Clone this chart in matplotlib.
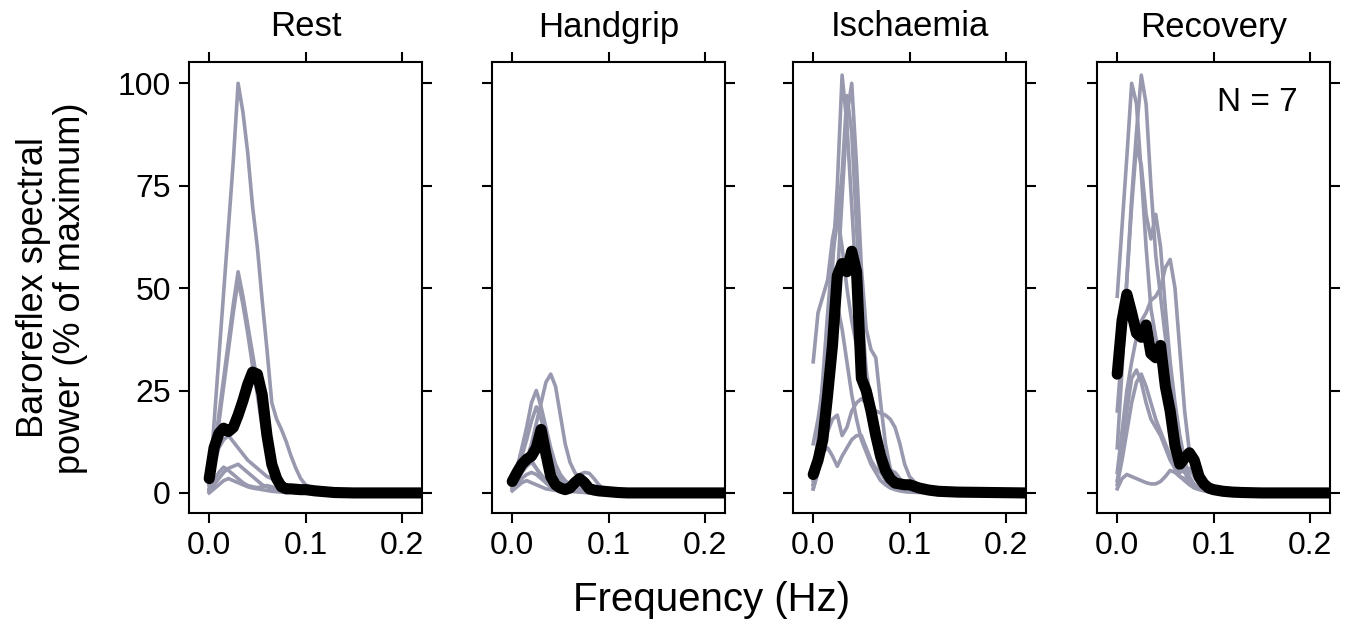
import matplotlib
matplotlib.use("Agg")
import matplotlib.pyplot as plt

plt.rcParams["font.family"] = ["Liberation Sans", "DejaVu Sans"]

# ---------------------------------------------------------------- data
FREQ = [0.000, 0.005, 0.010, 0.015, 0.020, 0.025, 0.030, 0.035, 0.040, 0.045,
        0.050, 0.055, 0.060, 0.065, 0.070, 0.075, 0.080, 0.085, 0.090, 0.095,
        0.100, 0.110, 0.120, 0.130, 0.150, 0.220]

PHASES = ["Rest", "Handgrip", "Ischaemia", "Recovery"]

REST_SUBJECTS = [
    [1, 17, 33, 49, 65, 81, 100, 93, 83, 70, 60, 47, 35, 22, 18, 15.5, 12.5, 9, 6, 3.5, 2, 0.8, 0.3, 0.1, 0, 0],
    [2, 10, 19, 28, 37, 46, 54, 48, 41, 34, 27, 19, 12, 7, 4, 2, 1, 0.6, 0.4, 0.3, 0.2, 0.1, 0, 0, 0, 0],
    [0.5, 8, 17, 26, 35, 44, 52, 46, 39, 31, 24, 16, 10, 6, 3.5, 2, 1.2, 0.8, 0.5, 0.3, 0.2, 0.1, 0, 0, 0, 0],
    [2, 7, 11, 13, 14, 12.5, 11, 9.5, 8, 7, 6, 5, 4, 3.5, 3, 2.5, 2, 1.5, 1, 0.6, 0.4, 0.2, 0.1, 0, 0, 0],
    [0.5, 2, 3.5, 5, 6, 6.5, 7, 6, 5, 4, 3, 2, 1.5, 1, 0.7, 0.5, 0.3, 0.2, 0.1, 0.1, 0, 0, 0, 0, 0, 0],
    [1, 3, 5, 6.3, 5.5, 4.5, 3.5, 2.5, 1.8, 1.5, 1.3, 1.5, 1.8, 1.5, 1, 0.6, 0.4, 0.2, 0.1, 0, 0, 0, 0, 0, 0, 0],
    [0, 1, 2, 3, 3.5, 3, 2.5, 2, 1.5, 1.2, 1.0, 0.8, 0.6, 0.4, 0.3, 0.2, 0.1, 0.1, 0, 0, 0, 0, 0, 0, 0, 0],
]
REST_MEAN = [3.5, 11, 14.5, 15.8, 15, 16, 19, 22.5, 26.5, 29.5, 29, 24, 14, 7, 3.5, 1.5,
             1.0, 1.0, 0.9, 0.8, 0.8, 0.5, 0.3, 0.1, 0, 0]

HANDGRIP_SUBJECTS = [
    [2, 3, 5, 8, 12, 17, 22, 27, 29, 26, 19, 12, 7.5, 5, 3.5, 2.5, 2, 1.2, 0.6, 0.3, 0.2, 0.1, 0, 0, 0, 0],
    [3, 6, 11, 16, 22, 25, 21, 16, 11, 7, 4.5, 3, 2, 1.5, 1, 0.7, 0.5, 0.3, 0.2, 0.1, 0, 0, 0, 0, 0, 0],
    [2, 5, 9, 13, 17.5, 21, 18, 14, 9, 5.5, 3.5, 2.5, 2, 2.5, 3, 2, 1, 0.5, 0.3, 0.2, 0.1, 0, 0, 0, 0, 0],
    [2, 5, 8, 9, 8, 6, 4.5, 3, 2, 1.5, 1, 0.7, 0.5, 0.4, 0.3, 0.2, 0.1, 0, 0, 0, 0, 0, 0, 0, 0, 0],
    [1, 2, 3.5, 4.5, 5, 4.5, 3.5, 2.5, 1.5, 1, 0.7, 0.5, 0.4, 0.3, 0.2, 0.1, 0, 0, 0, 0, 0, 0, 0, 0, 0, 0],
    [1.5, 3, 5, 6.5, 7.5, 6, 4, 2.5, 1.5, 1, 1, 1.5, 2.5, 3.5, 4.5, 5, 4.8, 3.5, 2, 1, 0.5, 0.2, 0.1, 0, 0, 0],
    [0.5, 1.5, 2.5, 3, 2.5, 2, 1.5, 1, 0.8, 0.6, 0.5, 0.6, 1, 1.5, 2, 1.8, 1.2, 0.6, 0.3, 0.1, 0, 0, 0, 0, 0, 0],
]
HANDGRIP_MEAN = [2.8, 5, 7, 8.2, 9, 11, 15.5, 9.5, 4, 2, 1.2, 0.8, 1.2, 2.5, 3.5, 2.5,
                 1.0, 0.7, 0.5, 0.4, 0.3, 0.1, 0, 0, 0, 0]

ISCHAEMIA_SUBJECTS = [
    [2, 10, 22, 38, 55, 75, 102, 90, 70, 50, 35, 25, 17, 10, 5, 3, 2, 1.5, 1, 0.8, 0.6, 0.3, 0.1, 0, 0, 0],
    [1, 5, 12, 22, 35, 52, 72, 92, 100, 80, 55, 40, 35, 33, 22, 12, 6, 3, 2, 1.5, 1, 0.5, 0.2, 0.1, 0, 0],
    [3, 14, 28, 44, 58, 66, 78, 97, 88, 65, 45, 30, 22, 15, 9, 5, 3, 2, 1.2, 0.8, 0.5, 0.2, 0.1, 0, 0, 0],
    [32, 44, 48, 52, 62, 68, 60, 50, 42, 36, 30, 27, 24, 18, 12, 7, 4, 2.5, 1.5, 1, 0.6, 0.3, 0.1, 0, 0, 0],
    [12, 18, 26, 35, 42, 46, 40, 32, 24, 18, 13, 10, 7, 5, 3, 2, 1.2, 0.8, 0.5, 0.3, 0.2, 0.1, 0, 0, 0, 0],
    [2, 6, 11, 15, 18, 19, 14, 16, 20, 22, 23, 22, 21, 20, 19.5, 19, 18, 16, 12, 7, 4, 1.5, 0.5, 0.2, 0, 0],
    [1, 6, 10, 11, 9, 6.5, 9, 11, 13, 14, 14, 11, 8, 6, 5, 5, 5.5, 5, 3.5, 2, 1, 0.4, 0.2, 0, 0, 0],
]
ISCHAEMIA_MEAN = [4.5, 8, 13, 24, 36, 53, 56, 54, 59, 54, 28, 25, 20, 14, 9, 5.5,
                  3.5, 2.4, 2.2, 2, 2, 1.2, 0.7, 0.4, 0.2, 0]

RECOVERY_SUBJECTS = [
    [48, 65, 82, 100, 95, 78, 60, 45, 38, 33, 27, 20, 13, 8, 5, 3, 2, 1.5, 1, 0.6, 0.4, 0.2, 0.1, 0, 0, 0],
    [11, 30, 52, 72, 88, 102, 95, 75, 58, 48, 38, 28, 18, 11, 6, 3, 2, 1.2, 0.8, 0.5, 0.3, 0.1, 0, 0, 0, 0],
    [20, 35, 52, 70, 85, 80, 68, 62, 68, 60, 45, 32, 22, 14, 8, 4, 2, 1.2, 0.8, 0.5, 0.3, 0.1, 0, 0, 0, 0],
    [5, 15, 25, 32, 38, 42, 44, 47, 48, 50, 55, 57, 50, 35, 20, 10, 5, 2.5, 1.5, 1, 0.6, 0.3, 0.1, 0, 0, 0],
    [2, 8, 15, 22, 27, 29, 26, 22, 18, 15, 12, 9, 6, 4, 3, 2, 1.2, 0.8, 0.5, 0.3, 0.2, 0.1, 0, 0, 0, 0],
    [1, 3.5, 4.5, 4, 3.5, 3, 2.5, 2.2, 2.2, 2.8, 4, 5.5, 5, 4, 3.5, 3, 2, 1.2, 0.8, 0.5, 0.3, 0.1, 0, 0, 0, 0],
    [3, 10, 20, 28, 30, 27, 22, 18, 16, 14, 11, 8, 6, 5, 5.5, 6, 4, 2, 1, 0.5, 0.3, 0.1, 0, 0, 0, 0],
]
RECOVERY_MEAN = [29, 42, 48.5, 44, 39, 38, 41, 34, 33, 36, 26, 20, 11.5, 7, 8.5, 9.8,
                 8, 4, 2.2, 1.2, 0.8, 0.4, 0.2, 0.1, 0, 0]

SUBJECTS = [REST_SUBJECTS, HANDGRIP_SUBJECTS, ISCHAEMIA_SUBJECTS, RECOVERY_SUBJECTS]
MEANS = [REST_MEAN, HANDGRIP_MEAN, ISCHAEMIA_MEAN, RECOVERY_MEAN]

X_TICKS = [0.0, 0.1, 0.2]
X_TICKLABELS = ["0.0", "0.1", "0.2"]
Y_TICKS = [0, 25, 50, 75, 100]

# ---------------------------------------------------------------- layout
W, H = 1350, 629
GRAY = "#9898AF"
fig = plt.figure(figsize=(W / 100, H / 100), dpi=100)

lefts = [189, 492, 793, 1097]
top_px, bot_px, width_px = 62, 513, 233

for i, (phase, subj, mean) in enumerate(zip(PHASES, SUBJECTS, MEANS)):
    ax = fig.add_axes([lefts[i] / W, 1 - bot_px / H, width_px / W, (bot_px - top_px) / H])
    for s in subj:
        ax.plot(FREQ, s, color=GRAY, lw=2.6, solid_joinstyle="round", zorder=2)
    ax.plot(FREQ, mean, color="black", lw=8, solid_capstyle="round",
            solid_joinstyle="round", zorder=3)

    ax.set_xlim(-0.021, 0.221)
    ax.set_ylim(-4.9, 105.2)
    ax.set_xticks(X_TICKS)
    ax.set_xticklabels(X_TICKLABELS)
    ax.set_yticks(Y_TICKS)
    ax.tick_params(direction="out", length=7, width=1.5, top=True, right=True,
                   labelsize=23, pad=6, labelleft=(i == 0))
    for sp in ax.spines.values():
        sp.set_linewidth(1.5)

    fig.text((lefts[i] + width_px / 2) / W, 1 - 27 / H, phase,
             ha="center", va="center", fontsize=25)

    if i == 3:
        ax.text(0.145, 95.4, "N = 7", ha="center", va="center", fontsize=24)

fig.text(52 / W, 1 - 288 / H, "Baroreflex spectral\npower (% of maximum)",
         rotation=90, ha="center", va="center", fontsize=26, linespacing=1.05)
fig.text(712 / W, 1 - 600 / H, "Frequency (Hz)", ha="center", va="center", fontsize=29)

fig.savefig("out.png", dpi=100)
